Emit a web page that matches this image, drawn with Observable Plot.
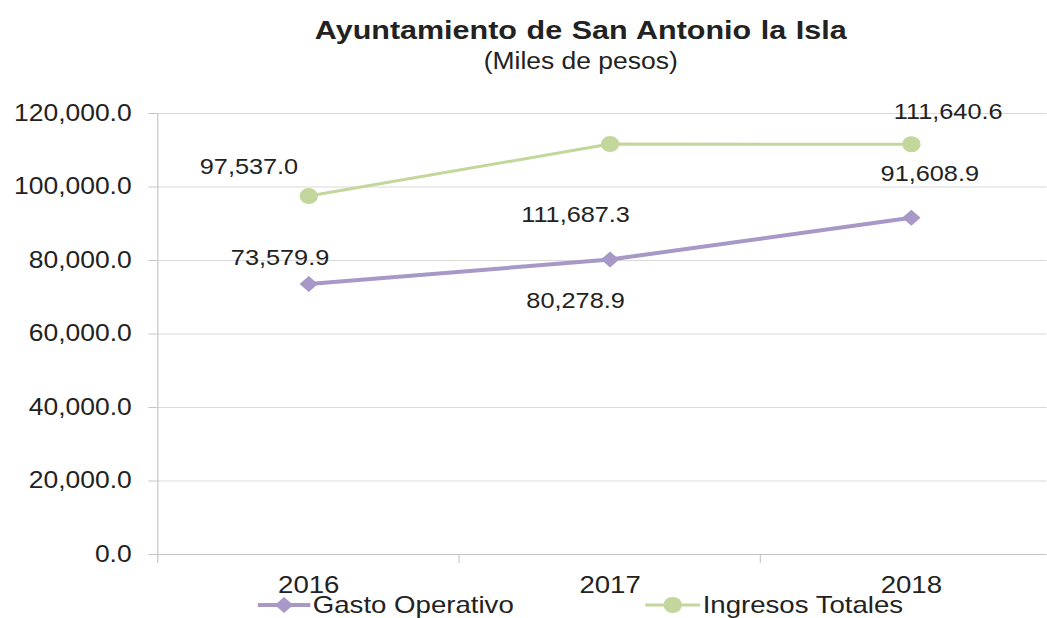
<!DOCTYPE html>
<html>
<head>
<meta charset="utf-8">
<script src="https://cdn.jsdelivr.net/npm/d3@7"></script>
<script src="https://cdn.jsdelivr.net/npm/@observablehq/plot@0.6"></script>
<style>
  html, body { margin: 0; padding: 0; background: #fff; overflow: hidden; }
  #wrap {
    position: relative; width: 910px; height: 618px;
    transform: scaleX(1.15); transform-origin: 0 0;
    font-family: "Liberation Sans", Arial, sans-serif; color: #222;
  }
  #title { position: absolute; left: 100px; width: 810px; top: 14px; line-height: 32px;
    text-align: center; font-weight: bold; font-size: 26.5px; word-spacing: 1px; }
  #subtitle { position: absolute; left: 100px; width: 810px; top: 47px; line-height: 28px;
    text-align: center; font-size: 23px; }
  #chart { position: absolute; left: 0; top: 80px; }
  #legend { position: absolute; left: 0; top: 593px; width: 910px; height: 24px; font-size: 24px; }
  #legend span { position: absolute; line-height: 24px; top: 0; white-space: nowrap; }
  #legend svg { position: absolute; top: 0; }
</style>
</head>
<body>
<div id="wrap">
  <div id="title">Ayuntamiento de San Antonio la Isla</div>
  <div id="subtitle">(Miles de pesos)</div>
  <div id="chart"></div>
  <div id="legend"></div>
</div>
<script>
// ---- data ----
const years = ["2016", "2017", "2018"];
const seriesNames = ["Gasto Operativo", "Ingresos Totales"];
const gastoOperativo = [73579.9, 80278.9, 91608.9];
const ingresosTotales = [97537.0, 111687.3, 111640.6];
const yTicks = [0, 20000, 40000, 60000, 80000, 100000, 120000];

// ---- layout / style (not data) ----
const purple = "#a798c7";
const green = "#c3d69b";
const axisGray = "#c4c4c4";
const gridGray = "#d9d9d9";
const xRange = [136, 924];
const bw = (xRange[1] - xRange[0]) / years.length;
// label offsets [dx, dy] in pixels, per year
const gastoLabelOffsets = [[-25, -26], [-30, 41], [16, -44]];
const ingresosLabelOffsets = [[-52, -29], [-30, 71], [32, -32]];

const gasto = years.map((year, i) => ({series: seriesNames[0], year, value: gastoOperativo[i]}));
const ingresos = years.map((year, i) => ({series: seriesNames[1], year, value: ingresosTotales[i]}));
const fmt = d3.format(",.1f");

const diamond = {
  draw(context, size) {
    const h = Math.sqrt(size / Math.PI) * 1.25;
    context.moveTo(0, -h);
    context.lineTo(h, 0);
    context.lineTo(0, h);
    context.lineTo(-h, 0);
    context.closePath();
  }
};

const labelMarks = [
  ...gasto.map((d, i) => Plot.text([d], {x: "year", y: "value", text: (d) => fmt(d.value),
    dx: gastoLabelOffsets[i][0], dy: gastoLabelOffsets[i][1], fontSize: 22, fill: "#222"})),
  ...ingresos.map((d, i) => Plot.text([d], {x: "year", y: "value", text: (d) => fmt(d.value),
    dx: ingresosLabelOffsets[i][0], dy: ingresosLabelOffsets[i][1], fontSize: 22, fill: "#222"}))
];

const chart = Plot.plot({
  width: 910,
  height: 520,
  marginTop: 33,
  marginBottom: 46,
  marginLeft: 136,
  marginRight: 0,
  style: {fontFamily: "'Liberation Sans', Arial, sans-serif", background: "transparent", overflow: "visible"},
  x: {type: "band", domain: years, range: xRange, padding: 0},
  y: {domain: [0, 120000]},
  marks: [
    Plot.gridY(yTicks, {stroke: gridGray, strokeOpacity: 1}),
    Plot.ruleY([0], {stroke: axisGray}),
    Plot.ruleX([years[0]], {x: (d) => d, y1: 120000, y2: 0, insetBottom: -9, dx: -bw / 2, stroke: axisGray}),
    Plot.ruleX(years.slice(1), {x: (d) => d, y1: 0, y2: 0, insetBottom: -9, dx: -bw / 2, stroke: axisGray}),
    Plot.axisY(yTicks, {tickSize: 7, tickPadding: 15, tickFormat: fmt, fontSize: 23, stroke: axisGray, fill: "#222", label: null}),
    Plot.axisX({tickSize: 0, tickPadding: 21, fontSize: 24, fill: "#222", label: null}),
    Plot.line(gasto, {x: "year", y: "value", stroke: purple, strokeWidth: 4}),
    Plot.line(ingresos, {x: "year", y: "value", stroke: green, strokeWidth: 3}),
    Plot.dot(gasto, {x: "year", y: "value", r: 6.4, symbol: diamond, fill: purple, stroke: "none"}),
    Plot.dot(ingresos, {x: "year", y: "value", r: 8, fill: green, stroke: "none"}),
    ...labelMarks
  ]
});
document.getElementById("chart").appendChild(chart);

// legend
const legend = document.getElementById("legend");
legend.innerHTML = `
  <svg style="left:224px" width="46" height="24">
    <line x1="0" x2="46" y1="12" y2="12" stroke="${purple}" stroke-width="4"/>
    <path d="M23,4L31,12L23,20L15,12Z" fill="${purple}"/>
  </svg>
  <span style="left:272px">${seriesNames[0]}</span>
  <svg style="left:561px" width="48" height="24">
    <line x1="0" x2="48" y1="12" y2="12" stroke="${green}" stroke-width="3"/>
    <circle cx="24" cy="12" r="8" fill="${green}"/>
  </svg>
  <span style="left:611px">${seriesNames[1]}</span>`;
</script>
</body>
</html>
